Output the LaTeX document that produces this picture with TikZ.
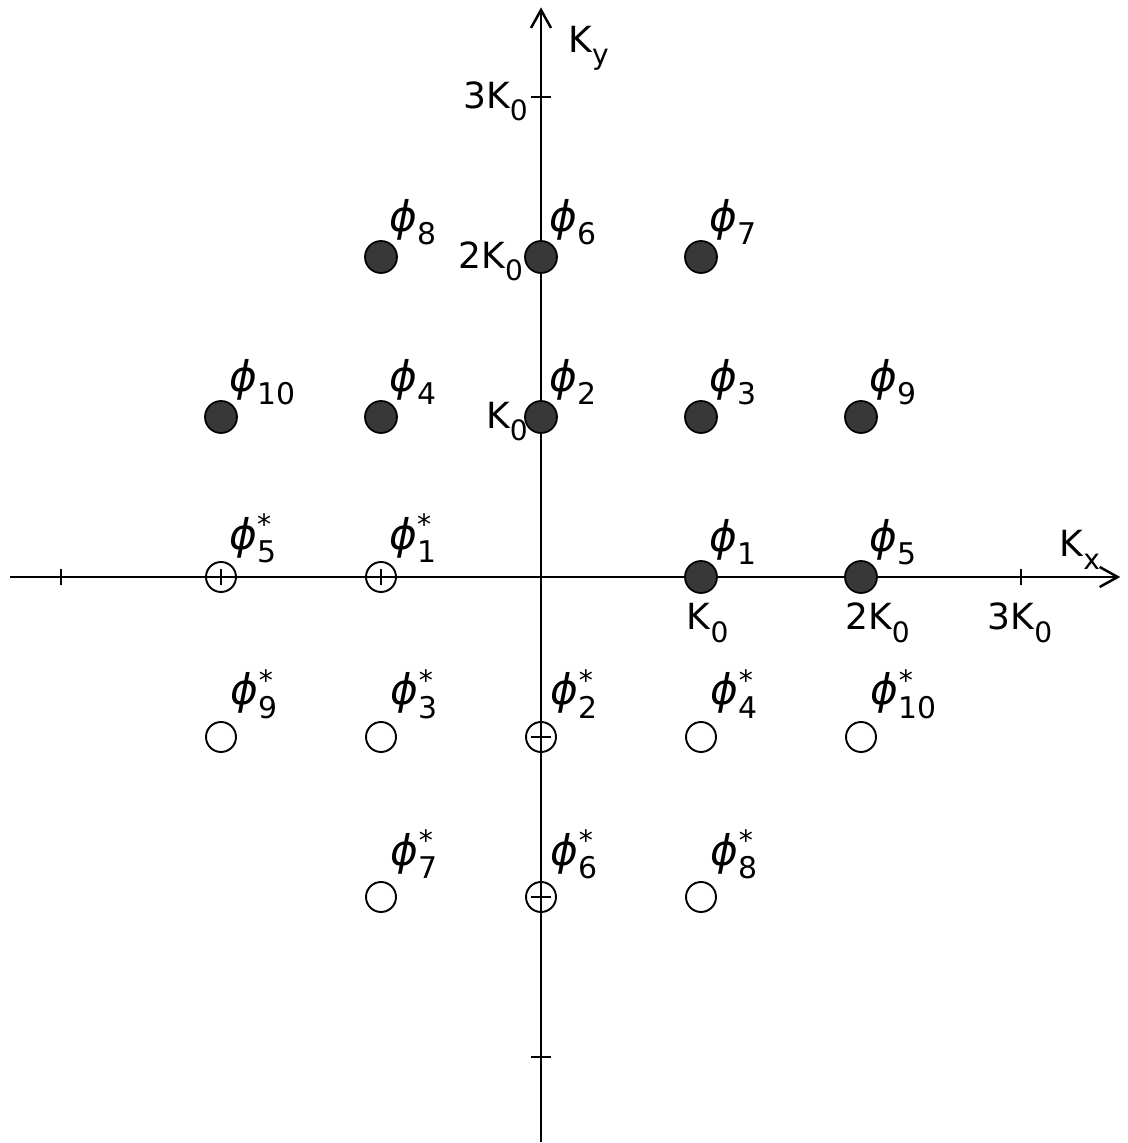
\documentclass[tikz,border=0pt]{standalone}
\usepackage{fontspec}
\setmainfont{DejaVu Sans}
\usepackage{tikz}
\usetikzlibrary{arrows.meta,positioning}

% phi label: #1 subscript, #2 superscript
\newcommand{\phis}[2]{{\fontsize{24}{26}\selectfont\itshape ϕ}\rlap{\raisebox{8.5pt}{\fontsize{16}{16}\selectfont #2}}\raisebox{-7.5pt}{\fontsize{17}{17}\selectfont #1}}
% K label with lowered index
\newcommand{\kay}[2]{#1K\raisebox{-7pt}{\fontsize{16}{16}\selectfont #2}}

\begin{document}
\begin{tikzpicture}[
  x=3.2cm, y=3.2cm,
  axis/.style={line width=1.4pt, -{Straight Barb[length=3.6mm, width=4mm]}},
  tickmark/.style={line width=1.2pt},
  wave/.style={circle, draw, line width=1pt, fill=black!78, minimum size=0.64cm, inner sep=0pt},
  conj/.style={circle, draw, line width=1.1pt, minimum size=0.6cm, inner sep=0pt},
  phi/.style={anchor=base west, inner sep=0pt},
  klab/.style={inner sep=0pt, font=\fontsize{20.5}{24}\selectfont}
]
\useasboundingbox (-3.38125,-3.5375) rectangle (3.6625,3.60625);

% axes
\coordinate (xl) at (-3.32,0);
\coordinate (xr) at (3.62,0);
\coordinate (yb) at (0,-3.53);
\coordinate (yt) at (0,3.56);
\draw[axis] (xl) -- (xr);
\draw[axis] (yb) -- (yt);
\foreach \t in {-3,-2,-1,1,2,3} {
  \draw[tickmark] (\t,-0.05) -- (\t,0.05);
  \draw[tickmark] (-0.0625,\t) -- (0.0625,\t);
}

% wave vectors
\node[wave] (p1) at (1,0) {};
\node[wave] (p2) at (0,1) {};
\node[wave] (p3) at (1,1) {};
\node[wave] (p4) at (-1,1) {};
\node[wave] (p5) at (2,0) {};
\node[wave] (p6) at (0,2) {};
\node[wave] (p7) at (1,2) {};
\node[wave] (p8) at (-1,2) {};
\node[wave] (p9) at (2,1) {};
\node[wave] (p10) at (-2,1) {};

% conjugates
\node[conj] (q1) at (-1,0) {};
\node[conj] (q2) at (0,-1) {};
\node[conj] (q3) at (-1,-1) {};
\node[conj] (q4) at (1,-1) {};
\node[conj] (q5) at (-2,0) {};
\node[conj] (q6) at (0,-2) {};
\node[conj] (q7) at (-1,-2) {};
\node[conj] (q8) at (1,-2) {};
\node[conj] (q9) at (-2,-1) {};
\node[conj] (q10) at (2,-1) {};

% labels
\node[phi] (l1) at ([shift={(0.05,0.16)}]p1) {\phis{1}{}};
\node[phi] (l2) at ([shift={(0.05,0.16)}]p2) {\phis{2}{}};
\node[phi] (l3) at ([shift={(0.05,0.16)}]p3) {\phis{3}{}};
\node[phi] (l4) at ([shift={(0.05,0.16)}]p4) {\phis{4}{}};
\node[phi] (l5) at ([shift={(0.05,0.16)}]p5) {\phis{5}{}};
\node[phi] (l6) at ([shift={(0.05,0.16)}]p6) {\phis{6}{}};
\node[phi] (l7) at ([shift={(0.05,0.16)}]p7) {\phis{7}{}};
\node[phi] (l8) at ([shift={(0.05,0.16)}]p8) {\phis{8}{}};
\node[phi] (l9) at ([shift={(0.05,0.16)}]p9) {\phis{9}{}};
\node[phi] (l10) at ([shift={(0.05,0.16)}]p10) {\phis{10}{}};
\node[phi] (m1) at ([shift={(0.05,0.17)}]q1) {\phis{1}{*}};
\node[phi] (m2) at ([shift={(0.06,0.2)}]q2) {\phis{2}{*}};
\node[phi] (m3) at ([shift={(0.06,0.2)}]q3) {\phis{3}{*}};
\node[phi] (m4) at ([shift={(0.06,0.2)}]q4) {\phis{4}{*}};
\node[phi] (m5) at ([shift={(0.05,0.17)}]q5) {\phis{5}{*}};
\node[phi] (m6) at ([shift={(0.06,0.2)}]q6) {\phis{6}{*}};
\node[phi] (m7) at ([shift={(0.06,0.2)}]q7) {\phis{7}{*}};
\node[phi] (m8) at ([shift={(0.06,0.2)}]q8) {\phis{8}{*}};
\node[phi] (m9) at ([shift={(0.06,0.2)}]q9) {\phis{9}{*}};
\node[phi] (m10) at ([shift={(0.06,0.2)}]q10) {\phis{10}{*}};

% axis labels
\node[klab, anchor=base west] (kx) at (3.24,0.125) {\kay{}{x}};
\node[klab, anchor=base west] (ky) at (0.17,3.28) {\kay{}{y}};
\node[klab, anchor=base east] (ky1) at (-0.08,0.93) {\kay{}{0}};
\node[klab, anchor=base east] (ky2) at (-0.11,1.93) {\kay{2}{0}};
\node[klab, anchor=base east] (ky3) at (-0.08,2.93) {\kay{3}{0}};
\node[klab, anchor=base west] (kx1) at (0.91,-0.33) {\kay{}{0}};
\node[klab, anchor=base west] (kx2) at (1.9,-0.33) {\kay{2}{0}};
\node[klab, anchor=base west] (kx3) at (2.79,-0.33) {\kay{3}{0}};
\end{tikzpicture}
\end{document}
